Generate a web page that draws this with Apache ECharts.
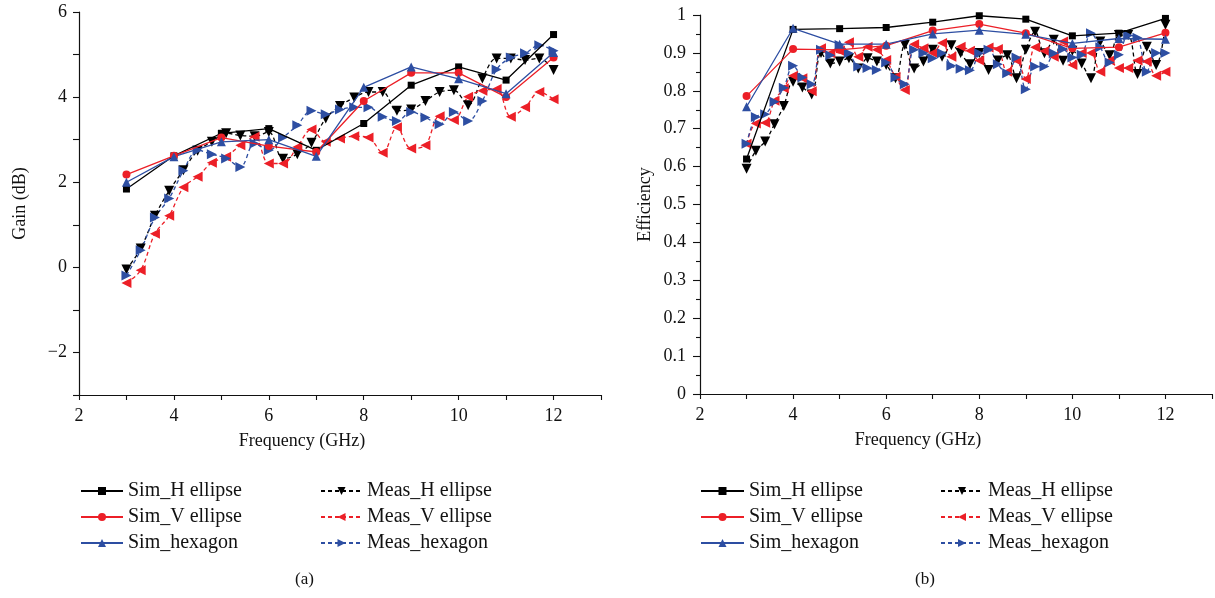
<!DOCTYPE html>
<html>
<head>
<meta charset="utf-8">
<script src="https://cdn.jsdelivr.net/npm/echarts@6/dist/echarts.min.js"></script>
<style>
html,body{margin:0;padding:0;background:#fff;}
#c{width:1215px;height:598px;}
</style>
</head>
<body>
<div id="c"></div>
<script>
// ---------- data ----------
var simFreq = [3,4,5,6,7,8,9,10,11,12];
var gainMeasFreq = [3.0,3.3,3.6,3.9,4.2,4.5,4.8,5.1,5.4,5.7,6.0,6.3,6.6,6.9,7.2,7.5,7.8,8.1,8.4,8.7,9.0,9.3,9.6,9.9,10.2,10.5,10.8,11.1,11.4,11.7,12.0];
var effMeasFreq = [3.0,3.2,3.4,3.6,3.8,4.0,4.2,4.4,4.6,4.8,5.0,5.2,5.4,5.6,5.8,6.0,6.2,6.4,6.6,6.8,7.0,7.2,7.4,7.6,7.8,8.0,8.2,8.4,8.6,8.8,9.0,9.2,9.4,9.6,9.8,10.0,10.2,10.4,10.6,10.8,11.0,11.2,11.4,11.6,11.8,12.0];

var gainSimH   = [1.84,2.62,3.15,3.26,2.75,3.38,4.28,4.71,4.40,5.47];
var gainSimV   = [2.18,2.62,3.05,2.85,2.71,3.91,4.57,4.57,4.00,4.93];
var gainSimHex = [2.00,2.60,2.95,3.00,2.61,4.23,4.71,4.43,4.08,5.05];

var gainMeasH   = [-0.05,0.44,1.21,1.80,2.28,2.74,2.95,3.15,3.10,3.08,3.18,2.55,2.66,2.93,3.50,3.79,3.99,4.12,4.12,3.68,3.71,3.91,4.12,4.16,3.81,4.44,4.91,4.91,4.87,4.91,4.64];
var gainMeasV   = [-0.37,-0.07,0.79,1.21,1.88,2.13,2.46,2.60,2.87,3.07,2.44,2.44,2.83,3.24,2.95,3.03,3.08,3.05,2.69,3.29,2.79,2.87,3.55,3.46,4.01,4.15,4.19,3.54,3.76,4.12,3.95];
var gainMeasHex = [-0.19,0.40,1.17,1.62,2.27,2.75,2.66,2.56,2.36,2.91,2.75,3.05,3.34,3.68,3.60,3.71,3.76,3.76,3.54,3.44,3.65,3.52,3.36,3.65,3.44,3.91,4.65,4.93,5.03,5.22,5.09];

var effSimH   = [0.620,0.962,0.964,0.967,0.981,0.998,0.989,0.945,0.952,0.991];
var effSimV   = [0.786,0.910,0.908,0.919,0.959,0.976,0.952,0.912,0.915,0.953];
var effSimHex = [0.758,0.965,0.923,0.923,0.950,0.960,0.949,0.925,0.938,0.936];

var effMeasH   = [0.594,0.642,0.666,0.712,0.760,0.824,0.809,0.790,0.900,0.872,0.877,0.886,0.859,0.886,0.877,0.868,0.833,0.921,0.859,0.877,0.908,0.890,0.920,0.900,0.870,0.900,0.855,0.880,0.894,0.833,0.908,0.956,0.899,0.935,0.879,0.906,0.872,0.833,0.930,0.894,0.947,0.947,0.844,0.916,0.868,0.974];
var effMeasV   = [0.660,0.714,0.716,0.774,0.807,0.840,0.833,0.799,0.912,0.899,0.905,0.928,0.890,0.916,0.908,0.881,0.837,0.802,0.923,0.912,0.900,0.926,0.890,0.916,0.906,0.880,0.914,0.910,0.850,0.880,0.831,0.915,0.905,0.890,0.930,0.868,0.900,0.900,0.850,0.880,0.860,0.860,0.880,0.877,0.840,0.850];
var effMeasHex = [0.660,0.731,0.738,0.771,0.808,0.866,0.835,0.817,0.908,0.894,0.921,0.899,0.864,0.860,0.855,0.875,0.835,0.817,0.908,0.900,0.886,0.899,0.866,0.858,0.854,0.899,0.908,0.870,0.846,0.888,0.804,0.864,0.864,0.899,0.910,0.888,0.895,0.952,0.915,0.875,0.895,0.946,0.940,0.850,0.900,0.900];

var names = ['Sim_H ellipse','Sim_V ellipse','Sim_hexagon','Meas_H ellipse','Meas_V ellipse','Meas_hexagon'];
var captions = ['(a)','(b)'];

// ---------- styles ----------
var FONT = 'Liberation Serif';
var BLACK = '#000000', RED = '#ec1f27', BLUE = '#2d4ea2';
var colors = [BLACK, RED, BLUE, BLACK, RED, BLUE];
var symbols = ['rect','circle','triangle','triangle','triangle','triangle'];
var rotates = [0,0,0,180,90,-90];
var sizes = [7,8,9,10,10,10];

function pairs(xs, ys){ return xs.map(function(x,i){ return [x, ys[i]]; }); }

function makeSeries(idx, xs, ys, axis){
  var meas = idx >= 3;
  return {
    name: names[idx], type: 'line',
    xAxisIndex: axis, yAxisIndex: axis,
    data: pairs(xs, ys),
    symbol: symbols[idx], symbolRotate: rotates[idx], symbolSize: sizes[idx],
    smooth: meas ? 0.35 : false,
    showAllSymbol: true,
    itemStyle: {color: colors[idx]},
    lineStyle: {color: colors[idx], width: 1.3, type: meas ? [4,3] : 'solid'},
    emphasis: {disabled: true},
    animation: false,
    z: meas ? 2 : 3
  };
}

function xAxisDef(gi){
  return {
    type: 'value', gridIndex: gi, min: 2, max: 13, interval: 1,
    name: 'Frequency (GHz)', nameLocation: 'middle', nameGap: 37,
    nameTextStyle: {fontFamily: FONT, fontSize: 18, color: '#111', padding: [0, 76, 0, 0]},
    axisLine: {show: true, onZero: false, lineStyle: {color: '#111', width: 1.2}},
    axisTick: {show: true, length: 5, lineStyle: {color: '#111', width: 1.1}},
    axisLabel: {fontFamily: FONT, fontSize: 18, color: '#111', margin: 12,
      formatter: function(v){ return (v % 2 === 0 && v <= 12) ? String(v) : ''; }},
    splitLine: {show: false}
  };
}

var option = {
  backgroundColor: '#fff',
  animation: false,
  grid: [
    {left: 79, top: 12, width: 522, height: 383},
    {left: 700, top: 15, width: 517, height: 379}
  ],
  xAxis: [xAxisDef(0), xAxisDef(1)],
  yAxis: [
    {
      type: 'value', gridIndex: 0, min: -3, max: 6, interval: 1,
      name: 'Gain (dB)', nameLocation: 'middle', nameGap: 50, nameRotate: 90,
      nameTextStyle: {fontFamily: FONT, fontSize: 18, color: '#111'},
      axisLine: {show: true, onZero: false, lineStyle: {color: '#111', width: 1.2}},
      axisTick: {show: true, length: 6, lineStyle: {color: '#111', width: 1.1}},
      axisLabel: {fontFamily: FONT, fontSize: 18, color: '#111', margin: 12,
        formatter: function(v){ if (v % 2 !== 0) return ''; return v < 0 ? '\u2212' + Math.abs(v) : String(v); }},
      splitLine: {show: false}
    },
    {
      type: 'value', gridIndex: 1, min: 0, max: 1, interval: 0.1,
      name: 'Efficiency', nameLocation: 'middle', nameGap: 46, nameRotate: 90,
      nameTextStyle: {fontFamily: FONT, fontSize: 18, color: '#111'},
      axisLine: {show: true, onZero: false, lineStyle: {color: '#111', width: 1.2}},
      axisTick: {show: true, length: 7, lineStyle: {color: '#111', width: 1.1}},
      minorTick: {show: true, splitNumber: 2, length: 4, lineStyle: {color: '#111', width: 1.1}},
      axisLabel: {fontFamily: FONT, fontSize: 18, color: '#111', margin: 14,
        formatter: function(v){ return String(Math.round(v*10)/10); }},
      splitLine: {show: false}
    }
  ],
  legend: [],
  graphic: [
    {type: 'text', left: 295, top: 571, style: {text: captions[0], font: '17px "' + FONT + '"', fill: '#111'}},
    {type: 'text', left: 915, top: 571, style: {text: captions[1], font: '17px "' + FONT + '"', fill: '#111'}}
  ],
  series: []
};

// legends (two columns per panel)
function legendDef(left, width, items){
  return {
    orient: 'vertical', left: left, top: 476,
    data: items, itemWidth: width, itemHeight: 10, itemGap: 6,
    selectedMode: false,
    textStyle: {fontFamily: FONT, fontSize: 20, color: '#111', lineHeight: 20}
  };
}
option.legend.push(legendDef(75, 42, names.slice(0,3)));
option.legend.push(legendDef(315, 41, names.slice(3)));
option.legend.push(legendDef(695, 43, names.slice(0,3)));
option.legend.push(legendDef(935, 42, names.slice(3)));

// panel (a)
option.series.push(makeSeries(0, simFreq, gainSimH, 0));
option.series.push(makeSeries(1, simFreq, gainSimV, 0));
option.series.push(makeSeries(2, simFreq, gainSimHex, 0));
option.series.push(makeSeries(3, gainMeasFreq, gainMeasH, 0));
option.series.push(makeSeries(4, gainMeasFreq, gainMeasV, 0));
option.series.push(makeSeries(5, gainMeasFreq, gainMeasHex, 0));
// panel (b)
option.series.push(makeSeries(0, simFreq, effSimH, 1));
option.series.push(makeSeries(1, simFreq, effSimV, 1));
option.series.push(makeSeries(2, simFreq, effSimHex, 1));
option.series.push(makeSeries(3, effMeasFreq, effMeasH, 1));
option.series.push(makeSeries(4, effMeasFreq, effMeasV, 1));
option.series.push(makeSeries(5, effMeasFreq, effMeasHex, 1));

var chart = echarts.init(document.getElementById('c'), null, {renderer: 'canvas'});
chart.setOption(option);
</script>
</body>
</html>
